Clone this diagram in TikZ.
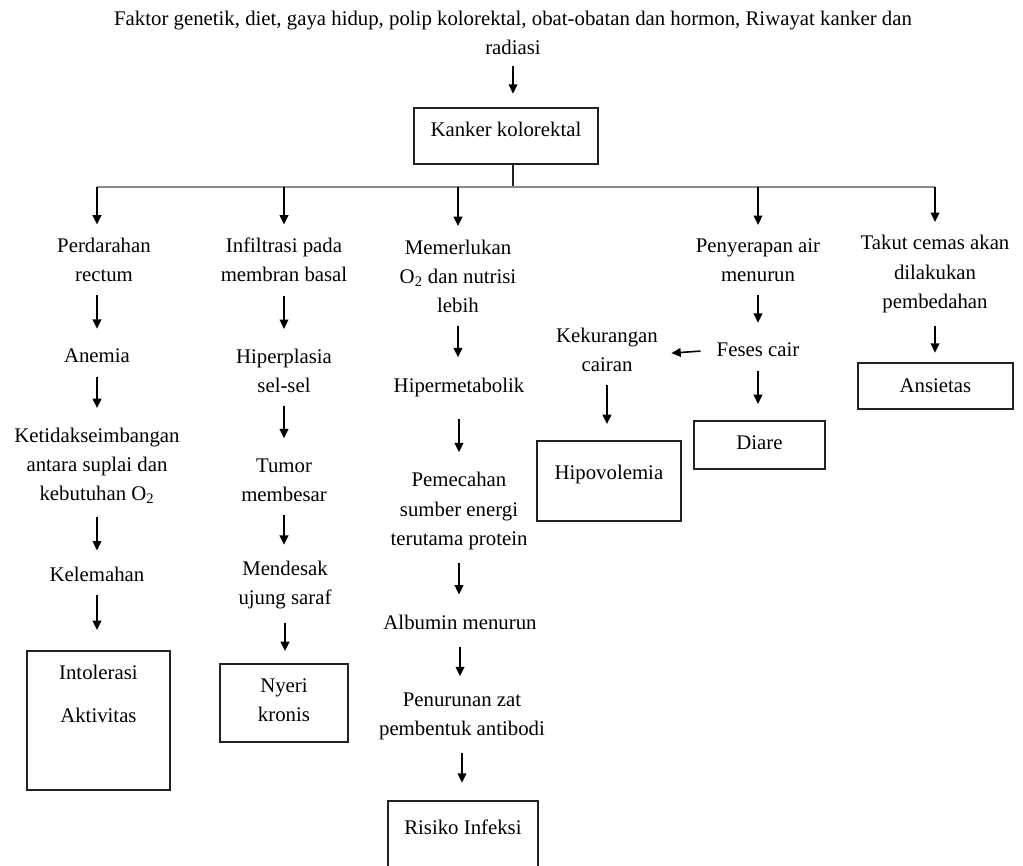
\documentclass[tikz,border=0pt]{standalone}
\usepackage{fontspec}
\setmainfont{Liberation Serif}
\usepackage{tikz}
\usetikzlibrary{arrows.meta, positioning, calc}
\definecolor{C_LINE}{HTML}{222222}
\definecolor{C_BUS} {HTML}{8A8A8A}
\tikzset{
  %% -- plain text step of a pathway --
  FC/txt/.style={
    inner sep=0pt, align=center,
    font=\fontsize{15.6}{21.8}\selectfont
  },
  %% -- framed problem box (diagnosis) --
  FC/box/.style={
    draw=C_LINE, line width=1.4pt, inner xsep=0pt, inner ysep=0pt,
    anchor=north west, align=center,
    font=\fontsize{15.6}{21.8}\selectfont
  },
  %% -- downward step arrow --
  FC/arr/.style={
    -{Triangle[length=7pt, width=6.5pt]}, line width=1.2pt, color=black,
    shorten <=10pt, shorten >=15pt
  },
  %% -- branching bus under the main box --
  FC/bus/.style={line width=1.5pt, color=C_BUS},
  FC/stem/.style={line width=0.8pt, color=C_LINE},
}

\begin{document}
\begin{tikzpicture}[x=0.75pt, y=-0.75pt]

\clip (0,0) rectangle (1023,865);
\fill[white] (0,0) rectangle (1023,865);

%% ---------------------------------------------------------------
%%  column positions
%% ---------------------------------------------------------------
\pgfmathsetmacro{\cxA}{97}   %% perdarahan
\pgfmathsetmacro{\cxB}{284}  %% infiltrasi
\pgfmathsetmacro{\cxC}{459}  %% memerlukan O2
\pgfmathsetmacro{\cxD}{758}  %% penyerapan air
\pgfmathsetmacro{\cxK}{607}  %% kekurangan cairan
\pgfmathsetmacro{\cxE}{935}  %% takut cemas
\pgfmathsetmacro{\yBus}{187}

%% ---------------------------------------------------------------
%%  TOP — causes and main box
%% ---------------------------------------------------------------
\node[FC/txt] (src) at (513,33)
  {Faktor genetik, diet, gaya hidup, polip kolorektal, obat-obatan dan hormon, Riwayat kanker dan\\radiasi};

\node[FC/box, minimum width=138pt, text height=21.75pt, text depth=20.25pt]
  (kanker) at (413,107) {Kanker kolorektal};

\draw[FC/arr, shorten <=8pt, shorten >=10pt] (src) -- (src |- kanker.north);

%% bus
\coordinate (b1) at (\cxA,\yBus);
\coordinate (b2) at (\cxB,\yBus);
\coordinate (b3) at (458,\yBus);
\coordinate (b4) at (\cxD,\yBus);
\coordinate (b5) at (\cxE,\yBus);
\draw[FC/stem] (src |- kanker.south) -- (src |- b1);
\draw[FC/bus] (b1) -- (b5);

%% ---------------------------------------------------------------
%%  COLUMN A — perdarahan rectum
%% ---------------------------------------------------------------
\node[FC/txt] (p1) at (104,260) {Perdarahan\\rectum};
\node[FC/txt] (a1) at (\cxA,356) {Anemia};
\node[FC/txt] (k1) at (\cxA,466)
  {Ketidakseimbangan\\antara suplai dan\\kebutuhan O\textsubscript{2}};
\node[FC/txt] (l1) at (\cxA,574) {Kelemahan};
\node[FC/box, minimum width=107.25pt, text height=54pt, text depth=50.25pt]
  (intol) at (26,650) {Intolerasi\\[10.5pt]Aktivitas};

%% ---------------------------------------------------------------
%%  COLUMN B — infiltrasi
%% ---------------------------------------------------------------
\node[FC/txt] (i2) at (\cxB,260) {Infiltrasi pada\\membran basal};
\node[FC/txt] (h2) at (\cxB,371) {Hiperplasia\\sel-sel};
\node[FC/txt] (t2) at (\cxB,480) {Tumor\\membesar};
\node[FC/txt] (m2) at (285,585) {Mendesak\\ujung saraf};
\node[FC/box, minimum width=96pt, text height=43.5pt, text depth=15pt]
  (nyeri) at (219,663) {Nyeri\\kronis};

%% ---------------------------------------------------------------
%%  COLUMN C — kebutuhan O2 / nutrisi
%% ---------------------------------------------------------------
\node[FC/txt] (m3) at (458,276) {Memerlukan\\O\textsubscript{2} dan nutrisi\\lebih};
\node[FC/txt] (h3) at (\cxC,387) {Hipermetabolik};
\node[FC/txt] (p3) at (\cxC,511) {Pemecahan\\sumber energi\\terutama protein};
\node[FC/txt] (a3) at (460,622) {Albumin menurun};
\node[FC/txt] (z3) at (462,716) {Penurunan zat\\pembentuk antibodi};
\node[FC/box, minimum width=112.5pt, text height=25.5pt, text depth=40pt]
  (risiko) at (387,800) {Risiko Infeksi};

%% ---------------------------------------------------------------
%%  COLUMN D — penyerapan air
%% ---------------------------------------------------------------
\node[FC/txt] (s4) at (\cxD,260) {Penyerapan air\\menurun};
\node[FC/txt] (f4) at (\cxD,350) {Feses cair};
\node[FC/txt] (k4) at (\cxK,350) {Kekurangan\\cairan};
\node[FC/box, minimum width=108pt, text height=29.25pt, text depth=30.75pt]
  (hipo) at (536,440) {Hipovolemia};
\node[FC/box, minimum width=98.25pt, text height=21.75pt, text depth=14.25pt]
  (diare) at (693,420) {Diare};

%% ---------------------------------------------------------------
%%  COLUMN E — takut cemas
%% ---------------------------------------------------------------
\node[FC/txt] (t5) at (\cxE,274) {Takut cemas akan\\dilakukan\\pembedahan};
\node[FC/box, minimum width=116.25pt, text height=22.5pt, text depth=12pt]
  (ans) at (857,362) {Ansietas};

%% ---------------------------------------------------------------
%%  ARROWS
%% ---------------------------------------------------------------
%% from bus
\draw[FC/arr, shorten <=0pt, shorten >=10pt] (b1) -- (b1 |- p1.north);
\draw[FC/arr, shorten <=0pt, shorten >=10pt] (b2) -- (b2 |- i2.north);
\draw[FC/arr, shorten <=0pt, shorten >=10pt] (b3) -- (b3 |- m3.north);
\draw[FC/arr, shorten <=0pt, shorten >=10pt] (b4) -- (b4 |- s4.north);
\draw[FC/arr, shorten <=0pt, shorten >=10pt] (b5) -- (b5 |- t5.north);

%% column A
\draw[FC/arr] (a1 |- p1.south) -- (a1.north);
\draw[FC/arr] (a1) -- (k1);
\draw[FC/arr, shorten >=12pt] (k1) -- (l1);
\draw[FC/arr] (l1) -- (l1 |- intol.north);

%% column B
\draw[FC/arr] (i2) -- (h2);
\draw[FC/arr] (h2) -- (t2);
\draw[FC/arr, shorten >=12pt] (t2) -- (t2 |- m2.north);
\draw[FC/arr, shorten >=9pt] (m2) -- (m2 |- nyeri.north);

%% column C
\draw[FC/arr] (m3) -- (m3 |- h3.north);
\draw[FC/arr, shorten <=17pt] (h3) -- (p3);
\draw[FC/arr] (p3) -- (p3 |- a3.north);
\draw[FC/arr, shorten <=13pt, shorten >=12pt] (a3) -- (a3 |- z3.north);
\draw[FC/arr, shorten >=13pt] (z3) -- (z3 |- risiko.north);

%% column D
\draw[FC/arr] (s4) -- (f4);
\draw[FC/arr, shorten >=12pt] (f4) -- (f4 |- diare.north);
\draw[FC/arr, shorten <=12pt, shorten >=10pt] (f4.west) -- ([yshift=-3pt]k4.east);
\draw[FC/arr, shorten >=12pt] (k4) -- (k4 |- hipo.north);

%% column E
\draw[FC/arr, shorten >=7pt] (t5) -- (t5 |- ans.north);

\end{tikzpicture}
\end{document}
